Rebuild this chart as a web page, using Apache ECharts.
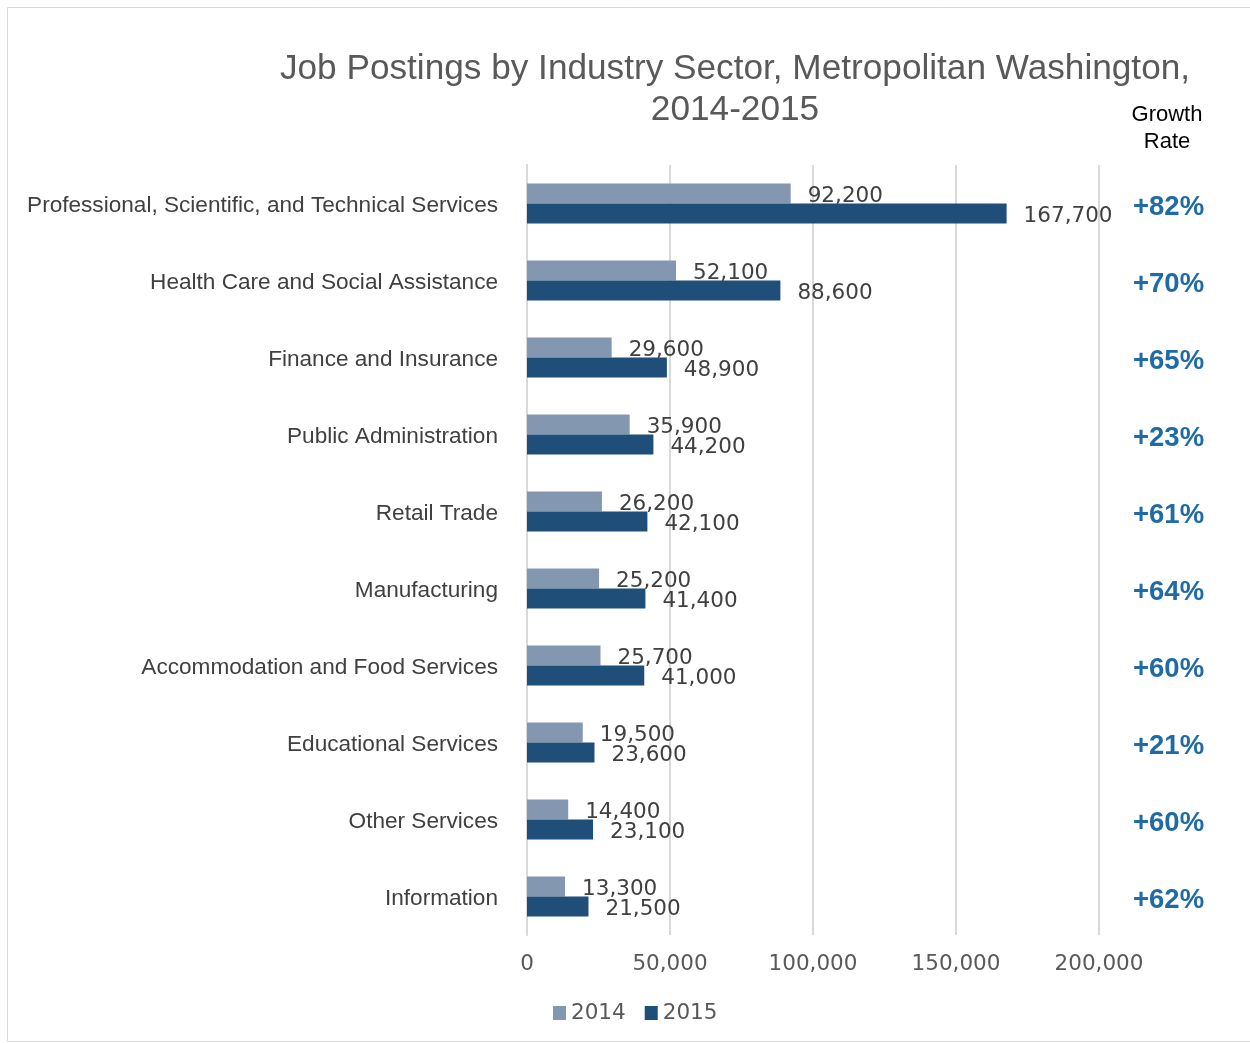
<!DOCTYPE html>
<html><head><meta charset="utf-8">
<script src="https://cdn.jsdelivr.net/npm/echarts@6/dist/echarts.min.js"></script>
<style>html,body{margin:0;padding:0;background:#fff}#c{width:1250px;height:1043px}</style>
</head><body><div id="c"></div>
<script>
var categories = ["Professional, Scientific, and Technical Services","Health Care and Social Assistance","Finance and Insurance","Public Administration","Retail Trade","Manufacturing","Accommodation and Food Services","Educational Services","Other Services","Information"];
var values2014 = [92200,52100,29600,35900,26200,25200,25700,19500,14400,13300];
var values2015 = [167700,88600,48900,44200,42100,41400,41000,23600,23100,21500];
var growthRates = ["+82%","+70%","+65%","+23%","+61%","+64%","+60%","+21%","+60%","+62%"];
var xTicks = [0,50000,100000,150000,200000];

var FONT = "Liberation Sans";
var NUMFONT = "DejaVu Sans";
var chart = echarts.init(document.getElementById('c'), null, {renderer:'canvas'});
function fmt(v){return v.toLocaleString('en-US');}
chart.setOption({
  animation:false,
  textStyle:{fontFamily:FONT},
  title:{text:"Job Postings by Industry Sector, Metropolitan Washington,\n2014-2015",left:730,top:44,textAlign:'center',
    textStyle:{fontFamily:FONT,fontSize:35.2,fontWeight:'normal',color:'#595959',lineHeight:41}},
  graphic:[
    {type:'rect',shape:{x:7.5,y:7.5,width:1260,height:1034},style:{fill:'none',stroke:'#d9d9d9',lineWidth:1},silent:true,z:-10},
    {type:'text',x:1167,y:101,style:{text:"Growth\nRate",fill:'#000',font:'22px "'+FONT+'"',align:'center',lineHeight:27}}
  ],
  legend:{data:['2014','2015'],bottom:19,left:553,itemWidth:13,itemHeight:14,itemGap:19,icon:'rect',padding:0,
    textStyle:{fontFamily:NUMFONT,fontSize:21.5,color:'#595959'}},
  grid:{left:527,right:151,top:165,bottom:108,containLabel:false},
  xAxis:{type:'value',min:xTicks[0],max:xTicks[xTicks.length-1],interval:50000,
    axisLine:{show:false},axisTick:{show:false},
    splitLine:{show:true,lineStyle:{color:'#d9d9d9',width:2}},
    axisLabel:{fontFamily:NUMFONT,fontSize:21.5,color:'#595959',margin:18,formatter:function(v){return fmt(v);}}},
  yAxis:[{type:'category',data:categories,inverse:true,
    axisLine:{show:true,lineStyle:{color:'#d9d9d9',width:2}},axisTick:{show:false},
    axisLabel:{margin:29,formatter:function(v){return '{a|'+v+'}';},
      rich:{a:{fontFamily:FONT,fontSize:22.6,color:'#404040',padding:[4,0,0,0]}}}},
    {type:'category',data:growthRates,inverse:true,position:'right',
    axisLine:{show:false},axisTick:{show:false},
    axisLabel:{margin:34,align:'left',formatter:function(v){return '{g|'+v+'}';},
      rich:{g:{fontFamily:FONT,fontSize:27.5,fontWeight:'bold',color:'#1F6BA5',padding:[8,0,0,0]}}}}],
  series:[
    {name:'2014',type:'bar',data:values2014,barWidth:20,barGap:'0%',itemStyle:{color:'#8497B0'},
      label:{show:true,position:'right',distance:17,offset:[0,3],fontFamily:NUMFONT,fontSize:21.5,color:'#404040',formatter:function(p){return fmt(p.value);}}},
    {name:'2015',type:'bar',data:values2015,barWidth:20,barGap:'0%',itemStyle:{color:'#1F4E79'},
      label:{show:true,position:'right',distance:17,offset:[0,3],fontFamily:NUMFONT,fontSize:21.5,color:'#404040',formatter:function(p){return fmt(p.value);}}}
  ]
});
</script></body></html>
